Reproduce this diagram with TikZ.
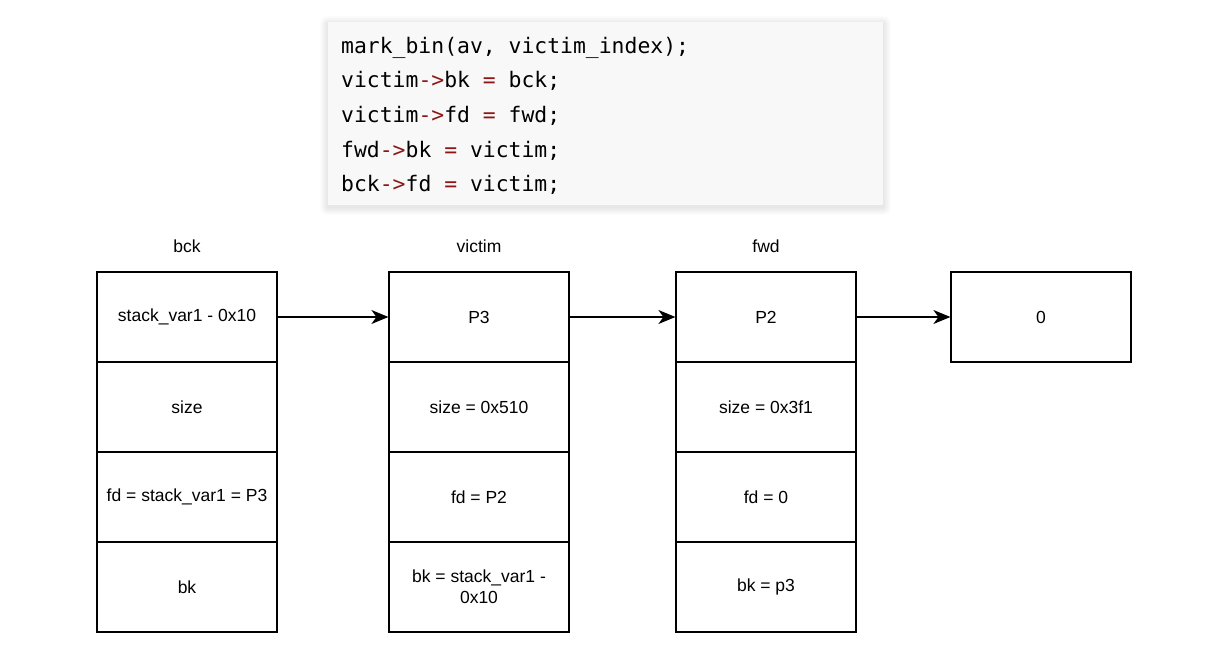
\documentclass[tikz,border=0pt]{standalone}
\usepackage{fontspec}
\setmainfont{Liberation Sans}
\newfontfamily\codefont{DejaVu Sans Mono}
\usetikzlibrary{arrows.meta}
\definecolor{oprd}{RGB}{140,22,22}
\definecolor{codebg}{RGB}{248,248,248}
\newcommand{\op}[1]{\textcolor{oprd}{#1}}
\tikzset{
  cell/.style={draw, line width=1.2pt, minimum width=180pt, minimum height=90pt,
    inner sep=2pt, align=center, font=\fontsize{17.5}{21}\selectfont},
  title/.style={font=\fontsize{17.5}{21}\selectfont, anchor=base},
  codeline/.style={anchor=base west, inner sep=0pt, font=\codefont\fontsize{21.4}{25}\selectfont},
  link/.style={-{Stealth[length=17pt,width=14pt,inset=5pt]}, line width=1.2pt}
}

\begin{document}
\begin{tikzpicture}[x=1pt,y=-1pt]
\useasboundingbox (0,0) rectangle (1227,661);
% code box
\foreach \i in {1,...,8}
  \fill[black, opacity=0.012, rounded corners=\i pt] (328-\i,22-\i+2) rectangle (883+\i,205+\i+2);
\fill[codebg] (328,22) rectangle (883,205);
\node[codeline] (line1) at (341,54) {mark\_bin(av, victim\_index);};
\node[codeline] (line2) at (341,88) {victim\op{->}bk \op{=} bck;};
\node[codeline] (line3) at (341,122) {victim\op{->}fd \op{=} fwd;};
\node[codeline] (line4) at (341,157) {fwd\op{->}bk \op{=} victim;};
\node[codeline] (line5) at (341,191) {bck\op{->}fd \op{=} victim;};
% chunk titles
\node[title] (tbck) at (187,252) {bck};
\node[title] (tvic) at (479,252) {victim};
\node[title] (tfwd) at (766,252) {fwd};
% bck chunk
\node[cell] (bck1) at (187,317) {stack\_var1 - 0x10};
\node[cell] (bck2) at (187,407) {size};
\node[cell] (bck3) at (187,497) {fd = stack\_var1 = P3};
\node[cell] (bck4) at (187,587) {bk};
% victim chunk
\node[cell] (vic1) at (479,317) {P3};
\node[cell] (vic2) at (479,407) {size = 0x510};
\node[cell] (vic3) at (479,497) {fd = P2};
\node[cell] (vic4) at (479,587) {bk = stack\_var1 -\\0x10};
% fwd chunk
\node[cell] (fwd1) at (766,317) {P2};
\node[cell] (fwd2) at (766,407) {size = 0x3f1};
\node[cell] (fwd3) at (766,497) {fd = 0};
\node[cell] (fwd4) at (766,587) {bk = p3};
% end
\node[cell] (nul) at (1041,317) {0};
\draw[link] (bck1) -- (vic1);
\draw[link] (vic1) -- (fwd1);
\draw[link] (fwd1) -- (nul);
\end{tikzpicture}
\end{document}
